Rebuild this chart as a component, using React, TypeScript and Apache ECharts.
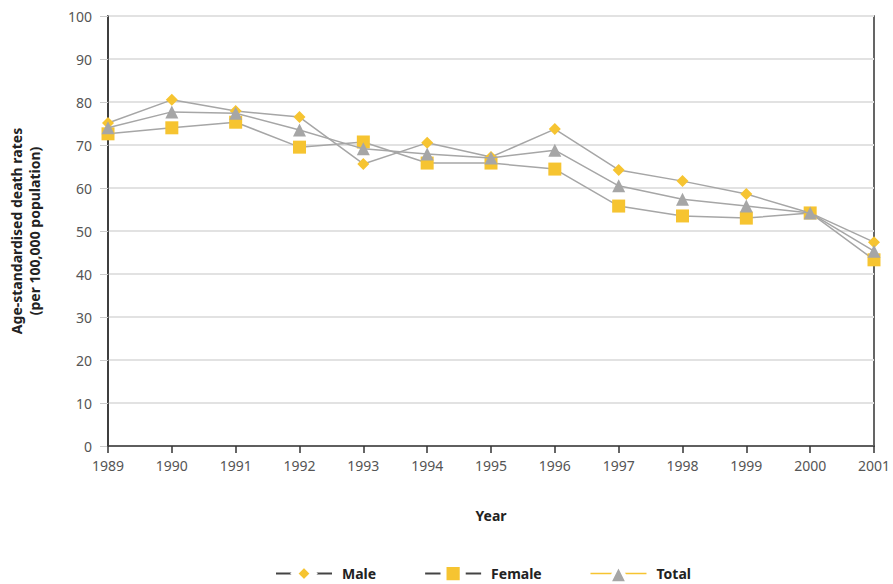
import React, { useEffect, useRef } from "react";
import * as echarts from "echarts";

const years = ["1989","1990","1991","1992","1993","1994","1995","1996","1997","1998","1999","2000","2001"];
const male = [75.1, 80.5, 77.9, 76.5, 65.6, 70.5, 67.2, 73.7, 64.2, 61.6, 58.6, 54.2, 47.4];
const female = [72.6, 74.0, 75.3, 69.5, 70.7, 65.8, 65.8, 64.4, 55.8, 53.5, 53.0, 54.2, 43.3];
const total = [74.0, 77.7, 77.4, 73.5, 69.1, 67.9, 67.0, 68.8, 60.5, 57.4, 55.8, 54.2, 45.3];

const YELLOW = "#F6C431";
const GREY = "#A6A6A6";
const FONT = "Noto Sans";

export default function App() {
  const ref = useRef<HTMLDivElement>(null);
  useEffect(() => {
    if (!ref.current) return;
    const chart = echarts.init(ref.current, undefined, { renderer: "svg" });
    chart.setOption({
      animation: false,
      textStyle: { fontFamily: FONT },
      grid: {
        left: 108, right: 19, top: 16, bottom: 138,
        show: true, borderColor: "#333", borderWidth: 1.5,
        outerBoundsMode: "none", containLabel: false,
      },
      legend: {
        top: 561,
        left: 275,
        padding: 0,
        itemWidth: 56,
        itemHeight: 24,
        itemGap: 48,
        textStyle: { fontFamily: FONT, fontSize: 14, fontWeight: "bold", color: "#222", padding: [0, 0, 0, 5] },
        data: [
          { name: "Male", itemStyle: { color: YELLOW, borderColor: "#fff", borderWidth: 6 }, lineStyle: { color: "#444", width: 2 } },
          { name: "Female", itemStyle: { color: YELLOW, borderColor: "#fff", borderWidth: 6 }, lineStyle: { color: "#444", width: 2 } },
          { name: "Total", itemStyle: { color: GREY, borderColor: "#fff", borderWidth: 4 }, lineStyle: { color: YELLOW, width: 1.5 } },
        ],
      },
      xAxis: {
        type: "category",
        data: years,
        boundaryGap: false,
        name: "Year",
        nameLocation: "middle",
        nameGap: 62,
        nameTextStyle: { fontFamily: FONT, fontSize: 14, fontWeight: "bold", color: "#222" },
        axisLine: { lineStyle: { color: "#333", width: 1.5 } },
        axisTick: { show: true, length: 7, lineStyle: { color: "#333", width: 1.5 }, alignWithLabel: true },
        axisLabel: { fontFamily: FONT, fontSize: 14, color: "#555", margin: 12 },
      },
      yAxis: {
        type: "value",
        min: 0,
        max: 100,
        interval: 10,
        name: "Age-standardised death rates\n(per 100,000 population)",
        nameLocation: "middle",
        nameGap: 65,
        nameRotate: 90,
        nameTextStyle: { fontFamily: FONT, fontSize: 14, fontWeight: "bold", color: "#222", lineHeight: 18 },
        axisLine: { show: true, lineStyle: { color: "#333", width: 1.5 } },
        axisTick: { show: true, length: 8, lineStyle: { color: "#ccc" } },
        axisLabel: { fontFamily: FONT, fontSize: 14, color: "#555", margin: 16 },
        splitLine: { lineStyle: { color: "#e2e2e2", width: 2 } },
      },
      series: [
        {
          name: "Male", type: "line", data: male, symbol: "diamond", symbolSize: 12,
          itemStyle: { color: YELLOW }, lineStyle: { color: GREY, width: 1.5 }, z: 3,
        },
        {
          name: "Female", type: "line", data: female, symbol: "rect", symbolSize: 13,
          itemStyle: { color: YELLOW }, lineStyle: { color: GREY, width: 1.5 }, z: 2,
        },
        {
          name: "Total", type: "line", data: total, symbol: "triangle", symbolSize: 13,
          itemStyle: { color: GREY }, lineStyle: { color: GREY, width: 1.5 }, z: 4,
        },
      ],
    });
    return () => chart.dispose();
  }, []);
  return <div ref={ref} style={{ width: 893, height: 584, position: "absolute", left: 0, top: 0 }} />;
}
